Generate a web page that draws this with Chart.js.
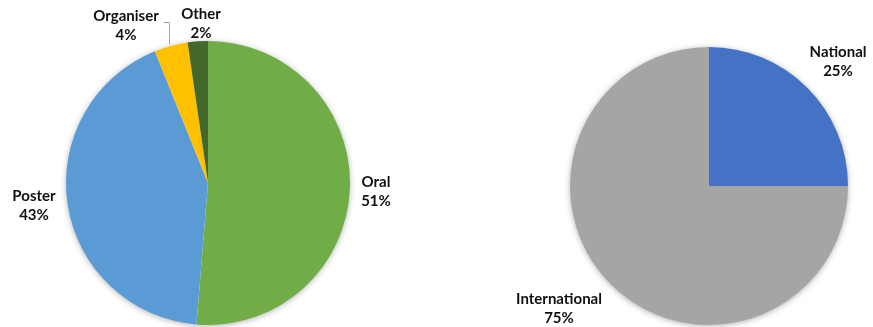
<!DOCTYPE html>
<html>
<head>
<meta charset="utf-8">
<script src="https://cdn.jsdelivr.net/npm/chart.js@4"></script>
<style>
  html, body { margin: 0; padding: 0; background: #fff; }
  #wrap { position: relative; width: 873px; height: 327px; overflow: hidden; }
  .box { position: absolute; top: 0; height: 327px; }
  #b1 { left: 0; width: 436px; }
  #b2 { left: 436px; width: 437px; }
</style>
</head>
<body>
<div id="wrap">
  <div class="box" id="b1"><canvas id="c1"></canvas></div>
  <div class="box" id="b2"><canvas id="c2"></canvas></div>
</div>
<script>
// ---- data ----
const typeCategories = ['Oral', 'Poster', 'Organiser', 'Other'];
const typeValues = [51.3, 42.6, 3.8, 2.3];
const typeColors = ['#70AD47', '#5B9BD5', '#FFC000', '#43682B'];

const scopeCategories = ['National', 'International'];
const scopeValues = [25, 75];
const scopeColors = ['#4472C4', '#A5A5A5'];

const FONT = 'bold 15px Lato, "Open Sans", sans-serif';

// circular soft shadow beneath the pie
const shadowPlugin = {
  id: 'pieShadow',
  beforeDatasetsDraw(chart) {
    const arc = chart.getDatasetMeta(0).data[0];
    if (!arc) return;
    const ctx = chart.ctx;
    ctx.save();
    ctx.shadowColor = 'rgba(0,0,0,0.35)';
    ctx.shadowBlur = 6;
    ctx.shadowOffsetX = 0;
    ctx.shadowOffsetY = 1;
    ctx.beginPath();
    ctx.arc(arc.x, arc.y, arc.outerRadius - 0.5, 0, Math.PI * 2);
    ctx.fillStyle = '#ffffff';
    ctx.fill();
    ctx.restore();
  }
};

// labels placed relative to the pie centre (offsets in plugin options)
const labelPlugin = {
  id: 'pieLabels',
  afterDatasetsDraw(chart, args, opts) {
    const meta = chart.getDatasetMeta(0);
    const ds = chart.data.datasets[0];
    const total = ds.data.reduce((a, b) => a + b, 0);
    const ctx = chart.ctx;
    ctx.save();
    ctx.font = FONT;
    ctx.fillStyle = '#111';
    ctx.textAlign = 'center';
    ctx.textBaseline = 'middle';
    meta.data.forEach((arc, i) => {
      const off = opts.offsets[i];
      const cx = arc.x + off[0];
      const cy = arc.y + off[1];
      const pct = Math.round(ds.data[i] / total * 100) + '%';
      ctx.fillText(chart.data.labels[i], cx, cy - 9.5);
      ctx.fillText(pct, cx, cy + 9.5);
    });
    if (opts.leaders) {
      ctx.strokeStyle = '#a6a6a6';
      ctx.lineWidth = 1;
      opts.leaders.forEach(l => {
        const arc = meta.data[l.index];
        ctx.beginPath();
        l.points.forEach((p, k) => {
          const x = arc.x + p[0] + 0.5, y = arc.y + p[1] + 0.5;
          if (k === 0) ctx.moveTo(x, y); else ctx.lineTo(x, y);
        });
        ctx.stroke();
      });
    }
    ctx.restore();
  }
};

const common = {
  responsive: true,
  maintainAspectRatio: false,
  animation: false,
  events: [],
  plugins: { legend: { display: false }, tooltip: { enabled: false } }
};

new Chart(document.getElementById('c1'), {
  type: 'pie',
  data: {
    labels: typeCategories,
    datasets: [{ data: typeValues, backgroundColor: typeColors, borderWidth: 0 }]
  },
  options: Object.assign({}, common, {
    layout: { padding: { left: 66, top: 41, right: 86, bottom: 2 } },
    plugins: Object.assign({}, common.plugins, {
      pieLabels: {
        offsets: [[168, 9], [-174, 23], [-82, -157], [-7, -159]],
        leaders: [{ index: 2, points: [[-45, -161], [-39, -161], [-39, -139]] }]
      }
    })
  }),
  plugins: [shadowPlugin, labelPlugin]
});

new Chart(document.getElementById('c2'), {
  type: 'pie',
  data: {
    labels: scopeCategories,
    datasets: [{ data: scopeValues, backgroundColor: scopeColors, borderWidth: 0 }]
  },
  options: Object.assign({}, common, {
    layout: { padding: { left: 134, top: 47, right: 25, bottom: 2 } },
    plugins: Object.assign({}, common.plugins, {
      pieLabels: { offsets: [[129, -124], [-150, 123]] }
    })
  }),
  plugins: [shadowPlugin, labelPlugin]
});
</script>
</body>
</html>
